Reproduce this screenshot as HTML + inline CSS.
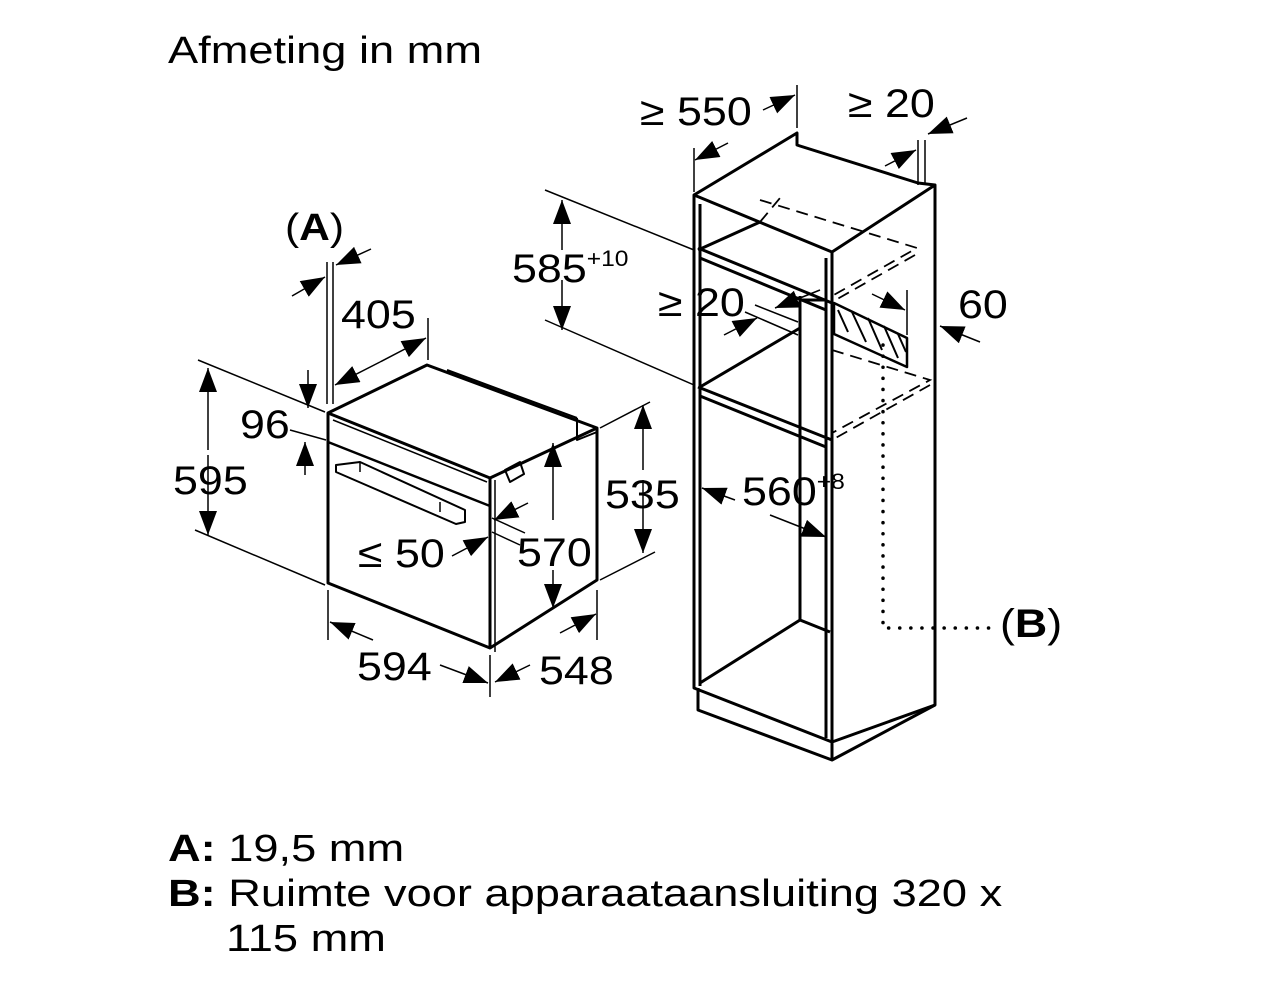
<!DOCTYPE html>
<html><head><meta charset="utf-8"><style>
html,body{margin:0;padding:0;background:#fff;}
svg{display:block;}
text{font-family:"Liberation Sans",sans-serif;fill:#000;}
</style></head><body>
<svg width="1264" height="1000" viewBox="0 0 1264 1000" xmlns="http://www.w3.org/2000/svg">
<defs>
<marker id="a" markerWidth="24" markerHeight="18" refX="24" refY="9" orient="auto" markerUnits="userSpaceOnUse">
<path d="M0,0 L24,9 L0,18 Z" fill="#000"/></marker>
</defs>
<text transform="translate(168 63) scale(1.19 1)" font-size="38">Afmeting in mm</text>

<!-- OVEN -->
<g fill="none" stroke="#000" stroke-width="3" stroke-linejoin="round">
<path d="M328,413 L427,365 L597,428 L597,580 L490,648 L328,583 Z"/>
<path d="M328,413 L490,478 L490,648"/>
<path d="M490,478 L597,428"/>
<path d="M328,442 L490,506" stroke-width="2.5"/>
<path d="M333,420 L487,482" stroke-width="1.5"/>
<path d="M447,370 L577,418" stroke-width="2"/>
<path d="M577,418 L577,440 L597,432" stroke-width="2"/>
<path d="M495,480 L495,652" stroke-width="1.5"/>
<path d="M505,470 L520,462 L524,474 L510,482 Z" stroke-width="2"/>
<path d="M336,465 L360,462 L465,510 L465,522 L456,524 L336,472 Z" stroke-width="2"/>
<path d="M360,462 L360,472 M440,502 L440,512" stroke-width="1.5"/>
</g>

<!-- oven dims -->
<g stroke="#000" stroke-width="1.5" fill="none">
<path d="M327,262 L327,404 M333,262 L333,404"/>
<path d="M428,318 L428,360"/>
<path d="M198,360 L325,412"/>
<path d="M290,430 L326,440"/>
<path d="M195,530 L325,585"/>
<path d="M328,590 L328,640 M490,655 L490,697 M597,590 L597,640"/>
<path d="M600,428 L650,402 M600,580 L655,552"/>
<path d="M492,518 L525,533 M492,532 L520,545"/>
<path d="M292,296 L325,277" marker-end="url(#a)"/>
<path d="M371,249 L336,265" marker-end="url(#a)"/>
<path d="M380,362 L335,385" marker-end="url(#a)"/>
<path d="M380,362 L426,338" marker-end="url(#a)"/>
<path d="M308,370 L308,408" marker-end="url(#a)"/>
<path d="M305,475 L305,442" marker-end="url(#a)"/>
<path d="M208,450 L208,368" marker-end="url(#a)"/>
<path d="M208,455 L208,535" marker-end="url(#a)"/>
<path d="M643,470 L643,405" marker-end="url(#a)"/>
<path d="M643,480 L643,553" marker-end="url(#a)"/>
<path d="M553,520 L553,443" marker-end="url(#a)"/>
<path d="M553,570 L553,608" marker-end="url(#a)"/>
<path d="M528,503 L494,520" marker-end="url(#a)"/>
<path d="M452,556 L488,537" marker-end="url(#a)"/>
<path d="M373,640 L330,622" marker-end="url(#a)"/>
<path d="M440,665 L488,683" marker-end="url(#a)"/>
<path d="M530,665 L495,682" marker-end="url(#a)"/>
<path d="M560,633 L596,614" marker-end="url(#a)"/>
</g>
<g font-size="40">
<text transform="translate(285 240) scale(1.12 1)" font-size="38">(<tspan font-weight="bold">A</tspan>)</text>
<text transform="translate(341 328) scale(1.12 1)">405</text>
<text transform="translate(240 438) scale(1.12 1)">96</text>
<text transform="translate(173 494) scale(1.12 1)">595</text>
<text transform="translate(605 508) scale(1.12 1)">535</text>
<text transform="translate(517 566) scale(1.12 1)">570</text>
<text transform="translate(358 567) scale(1.12 1)">≤ 50</text>
<text transform="translate(357 680) scale(1.12 1)">594</text>
<text transform="translate(539 684) scale(1.12 1)">548</text>
</g>

<!-- CABINET -->
<g fill="none" stroke="#000" stroke-width="3" stroke-linejoin="round">
<path d="M694,195 L797,133 L797,145 L800,146 L918,183 L935,185 L935,705 L832,760 L698,710 L698,688"/>
<path d="M694,195 L694,688 L832,742 L832,252 Z M694,195 L832,252 L935,185"/>
<path d="M700,204 L700,686 M826,258 L826,738"/>
<path d="M698,248 L832,303 M700,258 L826,310"/>
<path d="M698,250 L760,222"/>
<path d="M698,387 L832,440 M700,396 L826,447"/>
<path d="M700,387 L800,328"/>
<path d="M800,330 L800,620 M800,296 L800,335 M800,620 L830,632 M700,683 L800,620"/>
<path d="M800,300 L826,300"/>
<path d="M832,742 L832,760 M935,705 L832,742"/>
<path d="M834,303 L907,338 L907,367 L834,334 Z" stroke-width="2.5"/>
</g>
<g stroke="#000" stroke-width="2" fill="none">
<path d="M838,310 L848,332 M852,312 L866,342 M868,318 L882,350 M884,326 L898,358 M898,334 L906,352"/>
</g>
<g stroke="#000" stroke-width="1.8" fill="none" stroke-dasharray="12,7">
<path d="M760,200 L917,248 L832,296"/>
<path d="M760,222 L780,198"/>
<path d="M915,255 L832,302"/>
<path d="M832,350 L930,380 L832,433"/>
<path d="M930,385 L832,440"/>
</g>
<path d="M883,345 L883,628 L995,628" stroke="#000" stroke-width="3.5" fill="none" stroke-dasharray="0.1,11" stroke-linecap="round"/>

<!-- cabinet dims -->
<g stroke="#000" stroke-width="1.5" fill="none">
<path d="M694,148 L694,192 M797,85 L797,128"/>
<path d="M918,140 L918,185 M925,140 L925,185"/>
<path d="M545,190 L694,250 M545,320 L694,385"/>
<path d="M755,305 L798,322 M745,312 L798,335"/>
<path d="M907,290 L907,335"/>
<path d="M728,143 L695,160" marker-end="url(#a)"/>
<path d="M763,110 L795,95" marker-end="url(#a)"/>
<path d="M885,166 L916,150" marker-end="url(#a)"/>
<path d="M967,118 L928,134" marker-end="url(#a)"/>
<path d="M562,250 L562,200" marker-end="url(#a)"/>
<path d="M562,280 L562,330" marker-end="url(#a)"/>
<path d="M820,290 L775,308" marker-end="url(#a)"/>
<path d="M724,335 L757,318" marker-end="url(#a)"/>
<path d="M872,294 L905,310" marker-end="url(#a)"/>
<path d="M980,342 L940,326" marker-end="url(#a)"/>
<path d="M735,500 L702,488" marker-end="url(#a)"/>
<path d="M770,515 L826,537" marker-end="url(#a)"/>
</g>
<g font-size="40">
<text transform="translate(640 125) scale(1.12 1)">≥ 550</text>
<text transform="translate(848 117) scale(1.12 1)">≥ 20</text>
<text transform="translate(512 282) scale(1.12 1)">585<tspan font-size="22" dy="-16">+10</tspan></text>
<text transform="translate(658 316) scale(1.12 1)">≥ 20</text>
<text transform="translate(958 318) scale(1.12 1)">60</text>
<text transform="translate(742 505) scale(1.12 1)">560<tspan font-size="22" dy="-16">+8</tspan></text>
<text transform="translate(1000 637) scale(1.12 1)">(<tspan font-weight="bold">B</tspan>)</text>
</g>

<!-- legend -->
<g font-size="38">
<text transform="translate(168 861) scale(1.19 1)"><tspan font-weight="bold">A:</tspan> 19,5 mm</text>
<text transform="translate(168 906) scale(1.19 1)"><tspan font-weight="bold">B:</tspan> Ruimte voor apparaataansluiting 320 x</text>
<text transform="translate(226 951) scale(1.19 1)">115 mm</text>
</g>
</svg>
</body></html>
